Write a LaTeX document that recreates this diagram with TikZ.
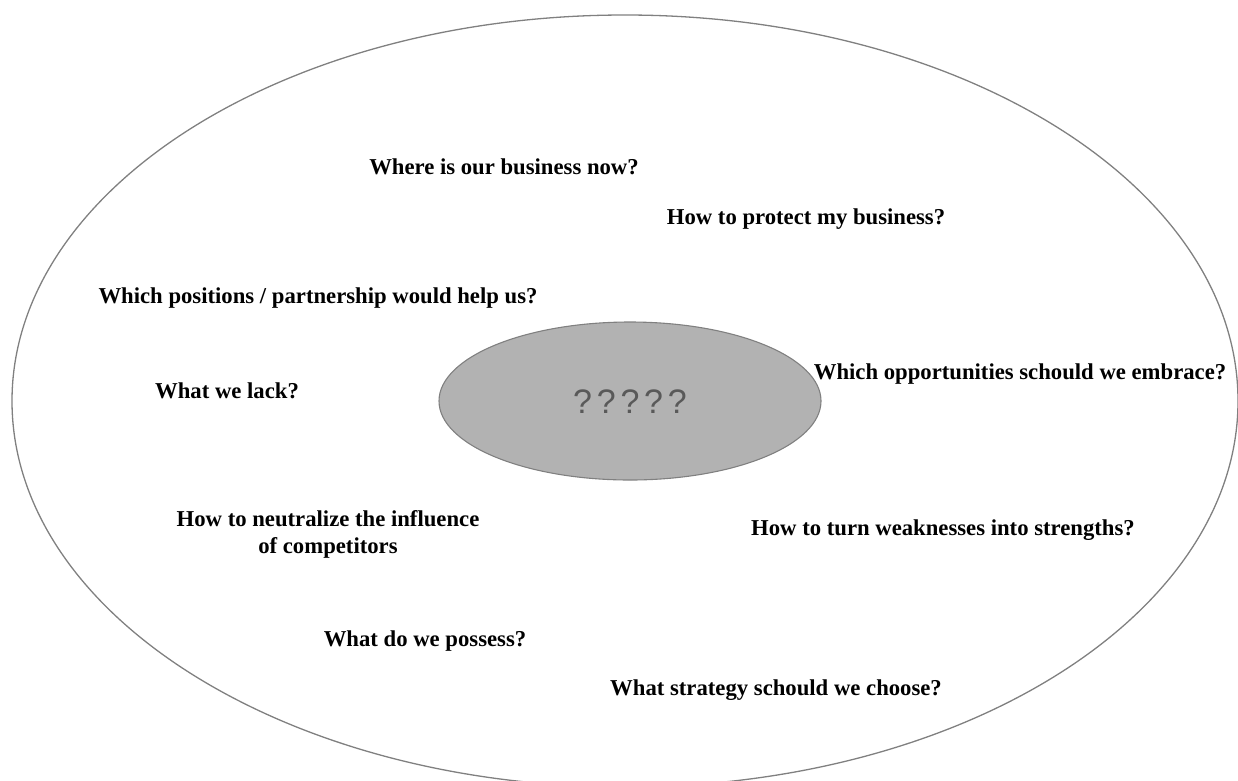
\documentclass[tikz,border=0pt]{standalone}
\usepackage{fontspec}
\setmainfont{Liberation Serif}
\newfontfamily\hubfont[LetterSpace=14]{Liberation Sans}
\definecolor{swotcolor0001}{RGB}{128,128,128}
\definecolor{swotcolor0002}{RGB}{178,178,178}
\definecolor{swotcolor0003}{RGB}{89,89,89}

\begin{document}
\begin{tikzpicture}[x=1pt,y=-1pt
            ,outerstyle/.style={draw=swotcolor0001,line width=1.3pt}
            ,hubstyle/.style={draw=swotcolor0001,fill=swotcolor0002,line width=1.1pt}
            ,askstyle/.style={anchor=base,inner sep=0pt,font=\fontsize{22.7}{27}\selectfont\bfseries,align=center}
        ]
        \useasboundingbox (0,0) rectangle (1238,780);
        \draw[outerstyle] (625,401) ellipse (613pt and 386pt);
        \draw[hubstyle] (630,401) ellipse (191pt and 79pt);
        \node (hub) at (630,413)[anchor=base,text=swotcolor0003,font=\hubfont\fontsize{34}{40}\selectfont]{?????};
        \node (now) at (504,174)[askstyle]{Where is our business now?};
        \node (protect) at (806,224)[askstyle]{How to protect my business?};
        \node (partners) at (318,303)[askstyle]{Which positions / partnership would help us?};
        \node (chances) at (1020,379)[askstyle]{Which opportunities schould we embrace?};
        \node (lack) at (227,398)[askstyle]{What we lack?};
        \node (rivals) at (328,553)[askstyle]{How to neutralize the influence\\of competitors};
        \node (weak) at (943,535)[askstyle]{How to turn weaknesses into strengths?};
        \node (possess) at (425,646)[askstyle]{What do we possess?};
        \node (strategy) at (776,695)[askstyle]{What strategy schould we choose?};
    \end{tikzpicture}
\end{document}
